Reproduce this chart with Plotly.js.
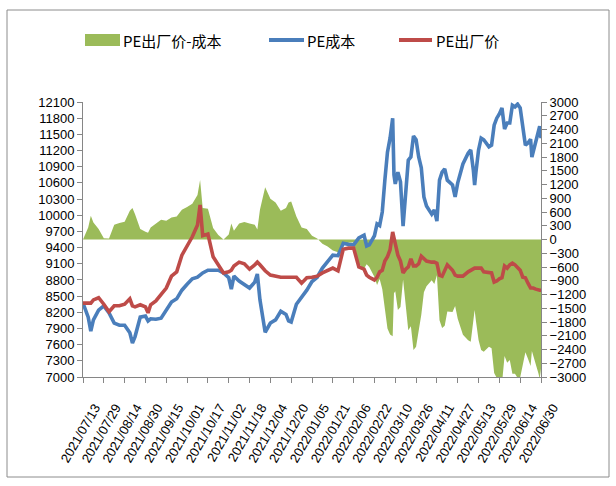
<!DOCTYPE html>
<html>
<head>
<meta charset="utf-8">
<script src="https://cdn.plot.ly/plotly-3.0.1.min.js"></script>
<style>html,body{margin:0;padding:0;background:#fff;}#chart{width:616px;height:486px;}</style>
</head>
<body>
<div id="chart"></div>
<script>
const dates = ["2021-07-13","2021-07-17","2021-07-19","2021-07-21","2021-07-25","2021-07-29","2021-08-02","2021-08-06","2021-08-10","2021-08-14",
"2021-08-18","2021-08-20","2021-08-22","2021-08-26","2021-08-30","2021-09-01","2021-09-03","2021-09-07","2021-09-11","2021-09-15",
"2021-09-19","2021-09-23","2021-09-27","2021-10-01","2021-10-05","2021-10-09","2021-10-11","2021-10-13","2021-10-17","2021-10-21",
"2021-10-25","2021-10-29","2021-11-02","2021-11-04","2021-11-06","2021-11-10","2021-11-14","2021-11-18","2021-11-22","2021-11-24",
"2021-11-26","2021-11-30","2021-12-04","2021-12-08","2021-12-12","2021-12-16","2021-12-18","2021-12-20","2021-12-24","2021-12-28",
"2022-01-01","2022-01-05","2022-01-09","2022-01-13","2022-01-17","2022-01-21","2022-01-25","2022-01-29","2022-02-02","2022-02-06",
"2022-02-10","2022-02-14","2022-02-16","2022-02-18","2022-02-22","2022-02-24","2022-02-26","2022-02-28","2022-03-02","2022-03-04",
"2022-03-06","2022-03-08","2022-03-09","2022-03-10","2022-03-12","2022-03-14","2022-03-16","2022-03-18","2022-03-20","2022-03-22",
"2022-03-24","2022-03-26","2022-03-28","2022-03-30","2022-04-01","2022-04-03","2022-04-07","2022-04-09","2022-04-11","2022-04-13",
"2022-04-15","2022-04-17","2022-04-19","2022-04-23","2022-04-25","2022-04-27","2022-05-01","2022-05-05","2022-05-07","2022-05-09",
"2022-05-10","2022-05-11","2022-05-13","2022-05-15","2022-05-17","2022-05-21","2022-05-23","2022-05-25","2022-05-27","2022-05-29",
"2022-05-31","2022-06-02","2022-06-04","2022-06-06","2022-06-08","2022-06-10","2022-06-12","2022-06-14","2022-06-16","2022-06-18",
"2022-06-20","2022-06-22","2022-06-23","2022-06-24","2022-06-26","2022-06-28","2022-06-29","2022-06-30"];

// PE成本 (left axis)
const cost = [8370,8110,7850,8060,8240,8320,8190,8000,7960,7960,
7820,7630,7750,8110,8130,8040,8080,8070,8090,8240,
8390,8450,8610,8720,8820,8850,8890,8930,8980,8980,
8980,8930,8840,8630,8870,8780,8720,8650,8760,8910,
8430,7830,8000,8060,8220,8160,8040,8020,8350,8480,
8610,8770,8850,9020,9130,9260,9250,9480,9460,9450,
9580,9630,9430,9450,9620,9840,9810,10060,10650,11170,
11430,11800,10750,10580,10800,10620,9800,10400,11020,11080,
11470,11400,11080,10880,10340,10170,10020,10100,9890,10650,
10800,10860,10650,10560,10340,10600,10950,11150,11210,10840,
10560,10800,11210,11430,11400,11270,11300,11670,11800,11880,
11990,11600,11710,11710,12040,12010,12060,11990,11580,11300,
11340,11410,11080,11170,11340,11530,11650,11430];

// PE出厂价 (left axis)
const price = [8370,8370,8370,8430,8470,8350,8210,8320,8320,8350,
8450,8320,8300,8340,8300,8190,8340,8410,8520,8650,
8870,8950,9260,9430,9600,9820,10190,9620,9650,9230,
9080,8930,8950,8980,9060,9130,9100,9000,9080,9130,
9080,8970,8890,8870,8850,8850,8850,8850,8850,8740,
8840,8850,8870,8930,8980,9020,8970,9370,9390,9390,
9040,9000,8890,8850,8800,8850,8950,8980,9150,9230,
9360,9690,9580,9450,9260,9150,8930,9000,9040,9190,
9060,9060,9100,9240,9190,9150,9130,9130,9110,8890,
8870,8980,9080,8980,8890,8870,8870,8950,8980,9020,
9020,9020,9020,9020,8950,8930,8930,8760,8780,8820,
8840,9060,9020,9080,9110,9080,9040,8980,8850,8840,
8740,8650,8650,8650,8630,8610,8610,8610];

// PE出厂价-成本 (right axis)
const spread = [0,260,520,370,230,30,20,320,360,390,
630,690,550,230,170,150,260,340,430,410,
480,500,650,710,780,970,1300,690,670,250,
100,0,110,350,190,350,380,350,320,220,
650,1140,890,810,630,690,810,830,500,260,
230,80,20,-90,-150,-240,-280,-110,-70,-60,
-540,-630,-540,-600,-820,-990,-860,-1080,-1500,-1940,
-2070,-2110,-1170,-1130,-1540,-1470,-870,-1400,-1980,-1890,
-2410,-2340,-1980,-1640,-1150,-1020,-890,-970,-780,-1760,
-1930,-1880,-1570,-1580,-1450,-1730,-2080,-2200,-2230,-1820,
-1540,-1780,-2190,-2410,-2450,-2340,-2370,-2910,-3020,-3060,
-3150,-2540,-2690,-2630,-2930,-2930,-3020,-3010,-2730,-2460,
-2600,-2760,-2430,-2520,-2710,-2920,-3040,-2820];

const seriesNames = ["PE出厂价-成本", "PE成本", "PE出厂价"];
const colors = {green: "#9BBB59", blue: "#4A7EBB", red: "#BE4B48"};

const axisColor = "#868686";
const tickFont = {family: "Liberation Sans, Arial, sans-serif", size: 13, color: "#000"};

const traces = [
  {x: dates, y: spread, name: seriesNames[0], type: "scatter", mode: "lines",
   fill: "tozeroy", fillcolor: colors.green, line: {width: 0, color: colors.green},
   yaxis: "y", hoverinfo: "skip"},
  {x: dates, y: cost, name: seriesNames[1], type: "scatter", mode: "lines",
   line: {width: 3.6, color: colors.blue}, yaxis: "y2"},
  {x: dates, y: price, name: seriesNames[2], type: "scatter", mode: "lines",
   line: {width: 3.6, color: colors.red}, yaxis: "y2"}
];

// pixel helpers for paper coordinates (plot area 83..541 x 102..377)
const L = 83, R = 541, T = 102, B = 377;
const px = v => (v - L) / (R - L);
const py = v => (B - v) / (B - T);

const legendFont = {family: "Noto Sans CJK SC, sans-serif", size: 15, color: "#000"};

const layout = {
  width: 616, height: 486,
  margin: {l: L, r: 616 - R, t: T, b: 486 - B, pad: 0},
  paper_bgcolor: "#fff", plot_bgcolor: "#fff",
  showlegend: false,
  xaxis: {
    type: "date", range: ["2021-07-13", "2022-06-30"],
    tick0: "2021-07-13", dtick: 16 * 86400000, tickformat: "%Y/%m/%d",
    tickangle: -60, ticklabelshift: 12, ticklabelstandoff: 12,
    showline: true, linecolor: axisColor, linewidth: 1,
    ticks: "outside", ticklen: 5, tickcolor: axisColor,
    showgrid: false, zeroline: false, tickfont: tickFont, fixedrange: true
  },
  yaxis: {
    range: [-3000, 3000], tick0: 0, dtick: 300, side: "right", tickformat: "d",
    showline: true, linecolor: axisColor, ticks: "outside", ticklen: 5, tickcolor: axisColor,
    showgrid: false, zeroline: false, tickfont: tickFont
  },
  yaxis2: {
    range: [7000, 12100], tick0: 7000, dtick: 300, side: "left", overlaying: "y", tickformat: "d",
    showline: true, linecolor: axisColor, ticks: "outside", ticklen: 5, tickcolor: axisColor,
    showgrid: false, zeroline: false, tickfont: tickFont
  },
  shapes: [
    {type: "rect", xref: "paper", yref: "paper", x0: px(7), x1: px(609), y0: py(477), y1: py(10),
     line: {color: "#8c8c8c", width: 1}, fillcolor: "rgba(0,0,0,0)", layer: "below"},
    {type: "rect", xref: "paper", yref: "paper", x0: px(85), x1: px(120), y0: py(46), y1: py(34),
     line: {width: 0}, fillcolor: colors.green},
    {type: "line", xref: "paper", yref: "paper", x0: px(269), x1: px(304), y0: py(40), y1: py(40),
     line: {color: colors.blue, width: 4}},
    {type: "line", xref: "paper", yref: "paper", x0: px(399), x1: px(432), y0: py(40), y1: py(40),
     line: {color: colors.red, width: 4}}
  ],
  annotations: [
    {xref: "paper", yref: "paper", x: px(121), y: py(40), xanchor: "left", yanchor: "middle",
     text: seriesNames[0], showarrow: false, font: legendFont},
    {xref: "paper", yref: "paper", x: px(305), y: py(40), xanchor: "left", yanchor: "middle",
     text: seriesNames[1], showarrow: false, font: legendFont},
    {xref: "paper", yref: "paper", x: px(434), y: py(40), xanchor: "left", yanchor: "middle",
     text: seriesNames[2], showarrow: false, font: legendFont}
  ]
};

Plotly.newPlot("chart", traces, layout, {displayModeBar: false, staticPlot: true});
</script>
</body>
</html>
